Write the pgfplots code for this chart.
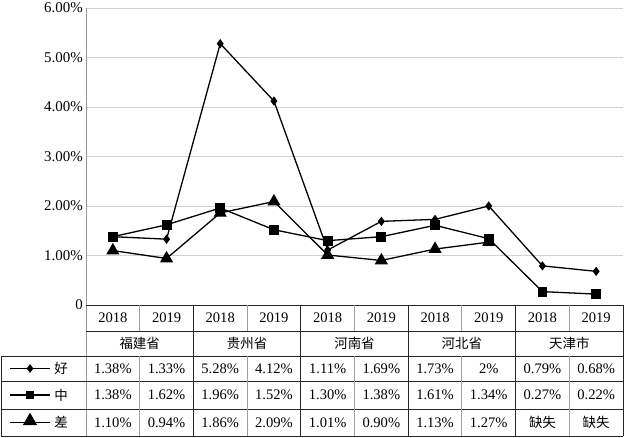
\documentclass[border=0pt]{standalone}
\usepackage{fontspec}
\setmainfont{Liberation Serif}
\newfontfamily\cjk{Noto Sans CJK SC}
\usepackage{pgfplots}
\pgfplotsset{compat=1.18}
\begin{document}
\begin{tikzpicture}
\useasboundingbox (-86bp,-133bp) rectangle (538bp,305bp);
\begin{axis}[
 at={(0,0)}, anchor=south west,
 scale only axis, width=537bp, height=297bp,
 xmin=0, xmax=10, ymin=0, ymax=6,
 axis line style={draw=none},
 xtick=\empty,
 ytick={0,1,2,3,4,5,6},
 yticklabels={0,1.00\%,2.00\%,3.00\%,4.00\%,5.00\%,6.00\%},
 yticklabel style={font=\fontsize{15}{17}\selectfont, inner sep=0pt, xshift=-3bp},
 major tick length=0pt,
 ymajorgrids, grid style={gray!35, line width=1bp},
 clip=false,
 every axis plot/.append style={line width=1.3bp, black},
 /pgf/number format/assume math mode=true,
]
\addplot[mark=diamond*, mark size=3.6bp] coordinates {
(0.5,1.38) (1.5,1.33) (2.5,5.28) (3.5,4.12) (4.5,1.11) (5.5,1.69) (6.5,1.73) (7.5,2.00) (8.5,0.79) (9.5,0.68)};
\addplot[mark=square*, mark size=4.3bp] coordinates {
(0.5,1.38) (1.5,1.62) (2.5,1.96) (3.5,1.52) (4.5,1.30) (5.5,1.38) (6.5,1.61) (7.5,1.34) (8.5,0.27) (9.5,0.22)};
\addplot[mark=triangle*, mark size=6.3bp] coordinates {
(0.5,1.10) (1.5,0.94) (2.5,1.86) (3.5,2.09) (4.5,1.01) (5.5,0.90) (6.5,1.13) (7.5,1.27)};
\end{axis}
% table lines
\draw[gray!80, line width=1bp] (0,297bp) -- (0,-131bp);
\begin{scope}[line width=0.9bp, black!85]
\draw (0,0) -- (537bp,0);
\draw (0,-26bp) -- (537bp,-26bp);
\foreach \y in {-51,-76,-104,-131} \draw (-85bp,\y bp) -- (537bp,\y bp);
\draw (-85bp,-51bp) -- (-85bp,-131bp);
\draw (537bp,0) -- (537bp,-131bp);
\foreach \k in {1,2,3,4} \draw (107.4*\k bp,0) -- (107.4*\k bp,-131bp);
\end{scope}
\begin{scope}[line width=0.9bp, gray!75]
\foreach \k in {0,1,2,3,4} {
 \draw ({53.7*(2*\k+1)*1bp},0) -- ({53.7*(2*\k+1)*1bp},-26bp);
 \draw ({53.7*(2*\k+1)*1bp},-51bp) -- ({53.7*(2*\k+1)*1bp},-131bp);
}
\end{scope}
% years and values
\begin{scope}[every node/.style={font=\fontsize{14.6}{17}\selectfont, inner sep=0pt}]
\foreach \k in {0,2,4,6,8} {
 \node at ({53.7*(\k+0.5)*1bp},-13bp) {2018};
 \node at ({53.7*(\k+1.5)*1bp},-13bp) {2019};
}
\foreach \k/\t in {0/1.38\%,1/1.33\%,2/5.28\%,3/4.12\%,4/1.11\%,5/1.69\%,6/1.73\%,7/2\%,8/0.79\%,9/0.68\%}
 \node at ({53.7*(\k+0.5)*1bp},-63.5bp) {\t};
\foreach \k/\t in {0/1.38\%,1/1.62\%,2/1.96\%,3/1.52\%,4/1.30\%,5/1.38\%,6/1.61\%,7/1.34\%,8/0.27\%,9/0.22\%}
 \node at ({53.7*(\k+0.5)*1bp},-90bp) {\t};
\foreach \k/\t in {0/1.10\%,1/0.94\%,2/1.86\%,3/2.09\%,4/1.01\%,5/0.90\%,6/1.13\%,7/1.27\%}
 \node at ({53.7*(\k+0.5)*1bp},-117.5bp) {\t};
\end{scope}
\begin{scope}[every node/.style={font=\cjk\fontsize{13.5}{15}\selectfont, inner sep=0pt}]
\foreach \k/\t in {0/福建省,1/贵州省,2/河南省,3/河北省,4/天津市}
 \node at ({107.4*(\k+0.5)*1bp},-38.5bp) {\t};
\node at ({53.7*8.5*1bp},-117.5bp) {缺失};
\node at ({53.7*9.5*1bp},-117.5bp) {缺失};
\node at (-25bp,-63.5bp) {好};
\node at (-25bp,-90bp) {中};
\node at (-25bp,-117.5bp) {差};
\end{scope}
% legend keys
\begin{scope}[line width=1.3bp, black]
\draw (-76bp,-63.5bp) -- (-36bp,-63.5bp);
\draw plot[only marks, mark=diamond*, mark size=3.4bp] coordinates {(-56bp,-63.5bp)};
\draw (-76bp,-90bp) -- (-36bp,-90bp);
\draw plot[only marks, mark=square*, mark size=3.8bp] coordinates {(-56bp,-90bp)};
\draw (-76bp,-117.5bp) -- (-36bp,-117.5bp);
\draw plot[only marks, mark=triangle*, mark size=7bp] coordinates {(-56bp,-116bp)};
\end{scope}
\end{tikzpicture}
\end{document}
